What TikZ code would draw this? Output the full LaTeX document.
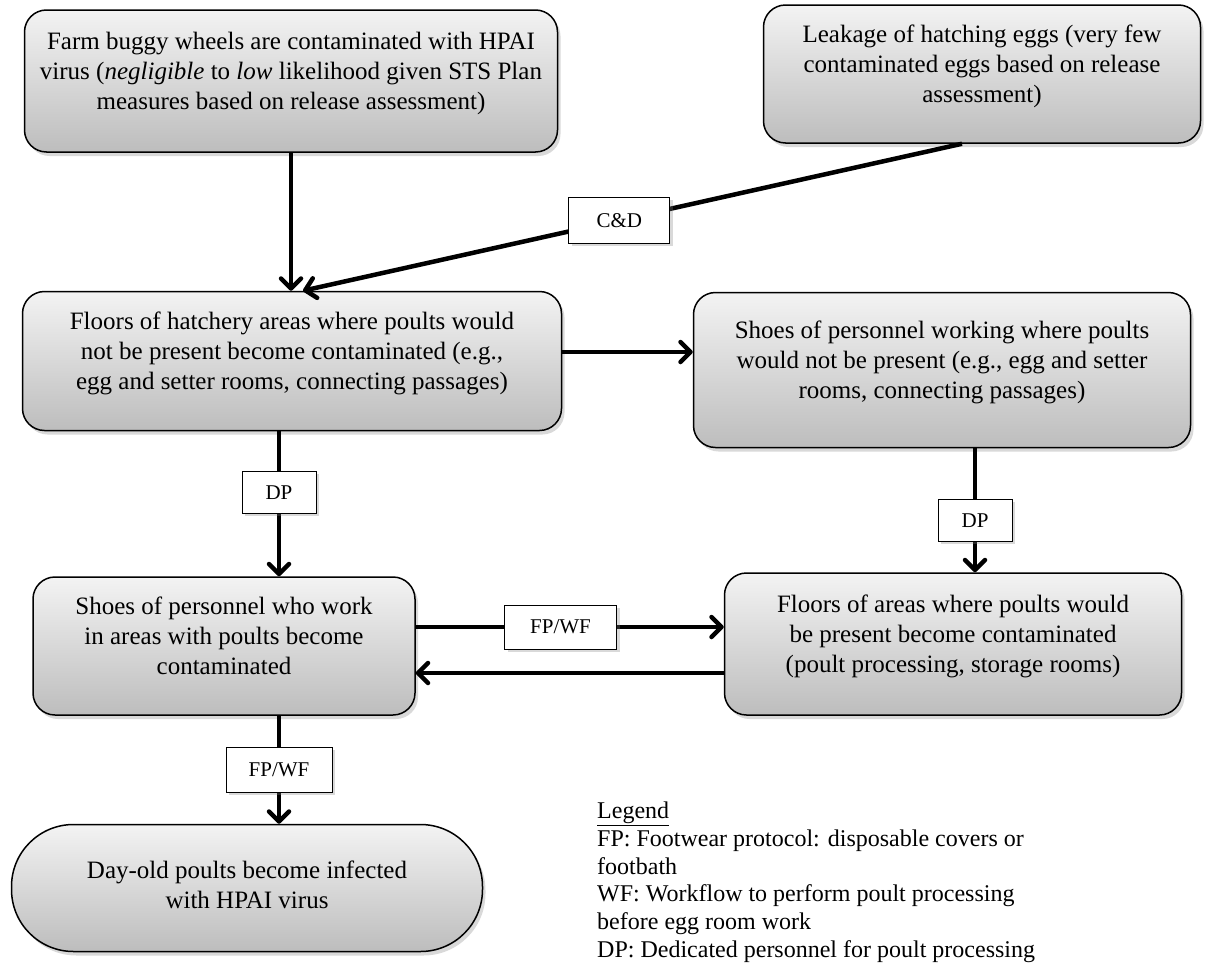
\documentclass[tikz,border=0pt]{standalone}
\usepackage{fontspec}
\setmainfont{Liberation Serif}
\usepackage{xcolor}
\usepackage{tikz}
\usetikzlibrary{shapes, arrows.meta, positioning, calc, shadows}

\definecolor{boxtop}{HTML}{F3F3F3}
\definecolor{boxbottom}{HTML}{BDBDBD}
\newcommand{\boxlines}[1]{\begin{tabular}[b]{@{}c@{}}#1\end{tabular}}

\begin{document}
\begin{tikzpicture}[x=1pt, y=-1pt,
    stepbox/.style={draw=black, line width=1.5pt, rounded corners=22pt,
        top color=boxtop, bottom color=boxbottom,
        drop shadow={shadow xshift=3pt, shadow yshift=-4pt, opacity=0.3},
        font=\fontsize{25}{30}\selectfont, inner sep=0pt, text depth=24pt},
    tag/.style={draw=black, line width=0.8pt, fill=white,
        drop shadow={shadow xshift=3pt, shadow yshift=-3pt, opacity=0.3},
        font=\fontsize{21}{25}\selectfont, minimum width=74pt, minimum height=42pt, inner sep=3pt},
    flow/.style={line width=4.5pt, -{Straight Barb[length=10pt, width=20pt, round]}}]
    \useasboundingbox (0,0) rectangle (1216,964);

    % Boxes
    \node[stepbox, minimum width=533pt, minimum height=142pt] (farm) at (291,81)
        {\boxlines{Farm buggy wheels are contaminated with HPAI\\ virus (\textit{negligible} to \textit{low} likelihood given STS Plan\\ measures based on release assessment)}};
    \node[stepbox, minimum width=437pt, minimum height=138pt] (leak) at (982,74)
        {\boxlines{Leakage of hatching eggs (very few\\ contaminated eggs based on release\\ assessment)}};
    \node[stepbox, minimum width=539pt, minimum height=139pt] (hatch) at (292,361)
        {\boxlines{Floors of hatchery areas where poults would\\ not be present become contaminated (e.g.,\\ egg and setter rooms, connecting passages)}};
    \node[stepbox, minimum width=497pt, minimum height=155pt] (shoesout) at (942,370)
        {\boxlines{Shoes of personnel working where poults\\ would not be present (e.g., egg and setter\\ rooms, connecting passages)}};
    \node[stepbox, minimum width=382pt, minimum height=138pt] (shoesin) at (224,646)
        {\boxlines{Shoes of personnel who work\\ in areas with poults become\\ contaminated}};
    \node[stepbox, minimum width=457pt, minimum height=142pt] (floorin) at (953,644)
        {\boxlines{Floors of areas where poults would\\ be present become contaminated\\ (poult processing, storage rooms)}};
    \node[stepbox, minimum width=471pt, minimum height=127pt, rounded corners=62pt, text depth=10pt] (poults) at (247,888)
        {\boxlines{Day-old poults become infected\\ with HPAI virus}};

    % Arrows with measures
    \draw[flow] (farm.south) -- (farm.south |- hatch.north);
    \draw[flow] ([xshift=-20pt]leak.south) -- node[tag, pos=0.52, minimum width=101pt, minimum height=46pt] (cd) {C\&D} ([xshift=11pt]hatch.north);
    \draw[flow] ([yshift=9pt]hatch.east) -- ([yshift=9pt]hatch.east -| shoesout.west);
    \draw[flow] ([xshift=-13pt]hatch.south) -- node[tag, pos=0.42] (dp1) {DP} ([xshift=-13pt]hatch.south |- shoesin.north);
    \draw[flow] ([xshift=33pt]shoesout.south) -- node[tag, pos=0.58] (dp2) {DP} ([xshift=33pt]shoesout.south |- floorin.north);
    \draw[flow] ([yshift=19pt]shoesin.east) -- node[tag, pos=0.47, minimum width=112pt, minimum height=44pt] (fw1) {FP/WF} ([yshift=19pt]shoesin.east -| floorin.west);
    \draw[flow] ([yshift=-29pt]floorin.west) -- ([yshift=-29pt]floorin.west -| shoesin.east);
    \draw[flow] ([xshift=55pt]shoesin.south) -- node[tag, pos=0.5, minimum width=106pt, minimum height=45pt] (fw2) {FP/WF} ([xshift=55pt]shoesin.south |- poults.north);

    % Legend
    \node[anchor=north west, inner sep=0pt, align=left, font=\fontsize{24}{27.7}\selectfont] (legend) at (597,802)
        {\underline{Legend}\\ FP: Footwear protocol: disposable covers or\\ footbath\\ WF: Workflow to perform poult processing\\ before egg room work\\ DP: Dedicated personnel for poult processing};
\end{tikzpicture}
\end{document}
